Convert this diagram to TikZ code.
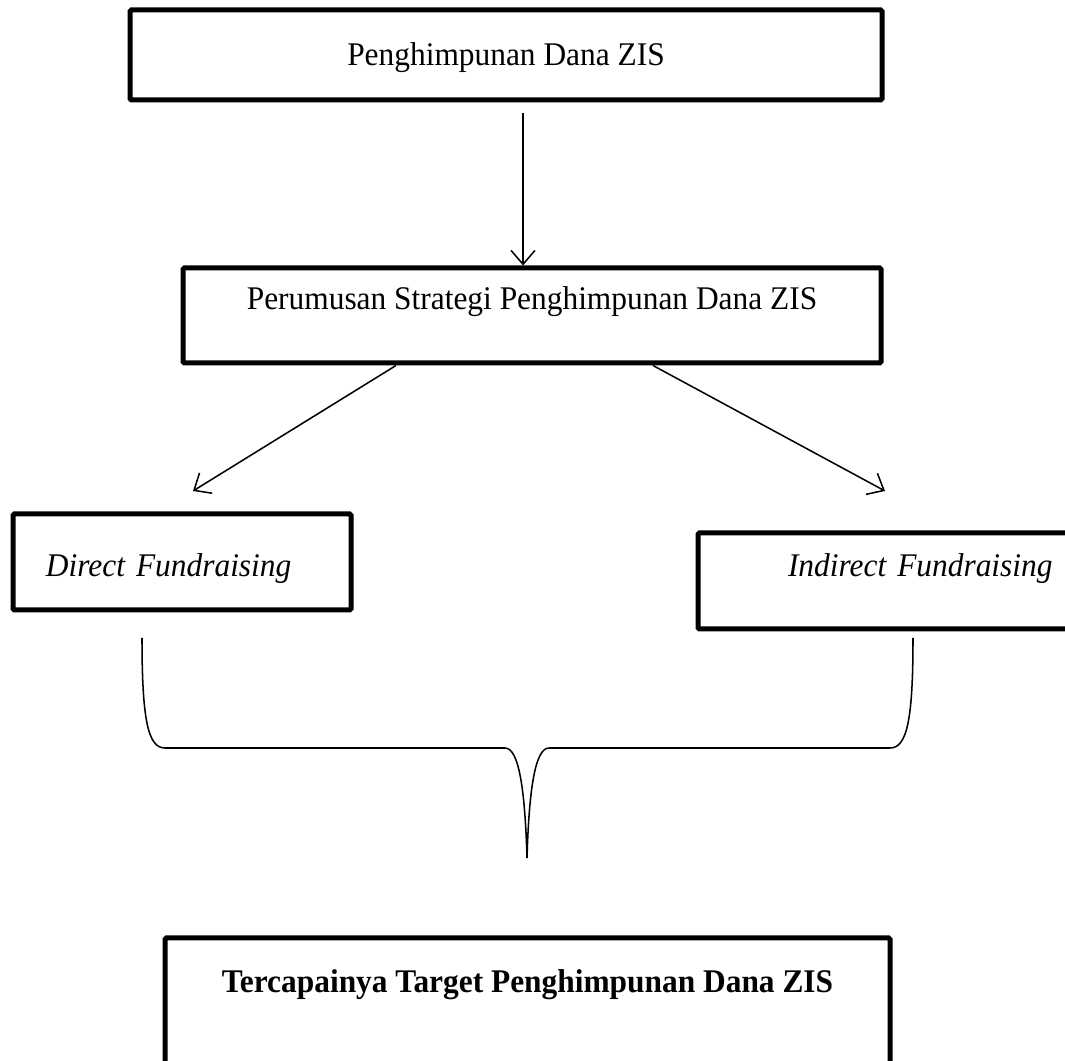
\documentclass[tikz,border=0pt]{standalone}
\usepackage{fontspec}
\setmainfont{Liberation Serif}[FakeStretch=0.95]
\usetikzlibrary{arrows.meta}

\tikzset{
  box/.style={draw, line width=1.8pt, rounded corners=0.5pt, inner sep=0pt,
    font=\fontsize{11.9}{14}\selectfont},
  thin/.style={line width=0.55pt},
  arr/.style={thin, -{Straight Barb[length=5pt,width=8.6pt]}}
}

\begin{document}
\begin{tikzpicture}[x=0.36pt,y=-0.36pt]
      \useasboundingbox (0,0) rectangle (1065,1061);
      \clip (0,0) rectangle (1065,1061);
      \node[box, minimum width=270.72pt, minimum height=32.4pt,
        text height=8.64pt, text depth=1.08pt] (hdz) at (506,55)
        {Penghimpunan Dana ZIS};
      \node[box, minimum width=251.28pt, minimum height=34.2pt,
        text height=3.6pt, text depth=7.56pt] (strategi) at (532,315.5)
        {Perumusan Strategi Penghimpunan Dana ZIS};
      \node[box, minimum width=121.68pt, minimum height=34.56pt,
        text width=97.92pt, align=left,
        text height=11.52pt, text depth=0.72pt] (direct) at (182,562)
        {\itshape Direct Fundraising};
      \node[box, minimum width=165.6pt, minimum height=34.56pt,
        text width=100.8pt, align=left,
        text height=3.6pt, text depth=6.48pt] (indirect) at (928,581)
        {\itshape Indirect Fundraising};
      \node[box, minimum width=261pt, minimum height=47.52pt,
        text height=3.6pt, text depth=11.52pt] (target) at (527.5,1004)
        {\bfseries Tercapainya Target Penghimpunan Dana ZIS};
      \coordinate (a1) at (523,113);
      \coordinate (tipd) at (193,491);
      \coordinate (tipi) at (885,491);
      \begin{scope}[arr]
        \draw (a1) to (a1 |- strategi.north);
        \draw (396,0 |- strategi.south) to (tipd);
        \draw (653,0 |- strategi.south) to (tipi);
      \end{scope}
      % kurung kurawal
      \coordinate (kl) at (142,638);
      \coordinate (kr) at (913,638);
      \coordinate (kc) at (527,858);
      \draw[thin] (kl) .. controls (142,720) and (148,748) .. (165,748)
        -- (505,748) .. controls (519,748) and (525,790) .. (kc)
        .. controls (529,790) and (535,748) .. (549,748)
        -- (890,748) .. controls (907,748) and (913,720) .. (kr);
    \end{tikzpicture}
\end{document}
